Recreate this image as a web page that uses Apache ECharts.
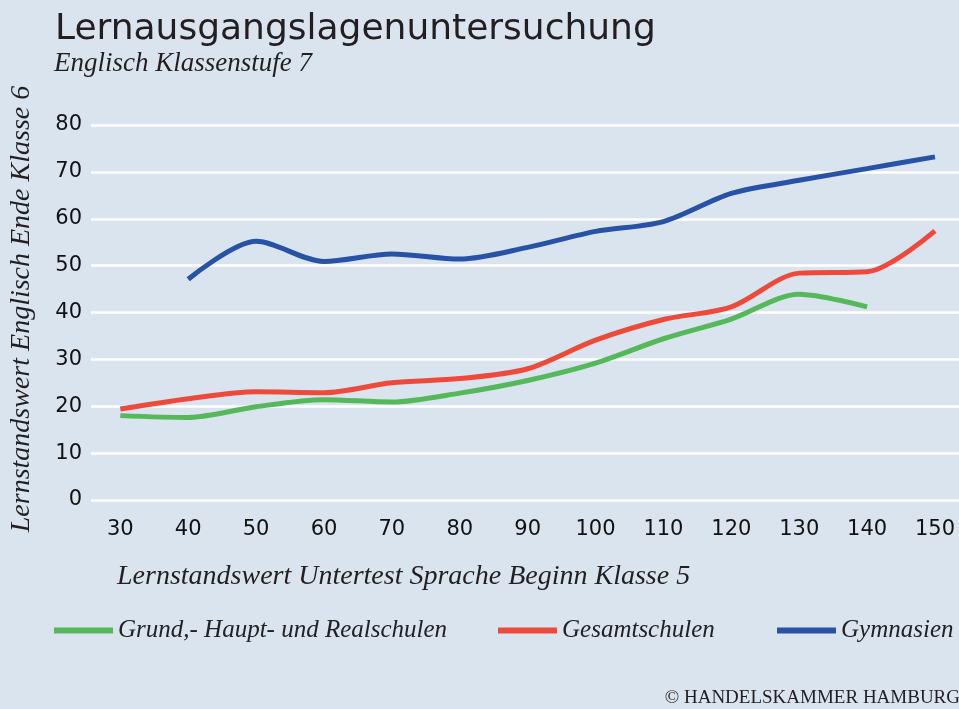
<!DOCTYPE html>
<html lang="de">

<head>
  <meta charset="UTF-8">
  <title>Lernausgangslagenuntersuchung</title>
  <script src="https://cdn.jsdelivr.net/npm/echarts@6.0.0/dist/echarts.min.js"></script>
  <style>
    html, body { margin: 0; padding: 0; background: #dae4ef; }
  </style>
</head>

<body>
  <div id="main" style="width: 959px;height:709px;"></div>

  <script type="text/javascript">

    // Lernstandswert Untertest Sprache Beginn Klasse 5
    const xValues = [30, 40, 50, 60, 70, 80, 90, 100, 110, 120, 130, 140, 150];
    const xTickLabels = [30, 40, 50, 60, 70, 80, 90, 100, 110, 120, 130, 140, 150];
    const yTickLabels = [0, 10, 20, 30, 40, 50, 60, 70, 80];

    // Lernstandswert Englisch Ende Klasse 6
    const grundHauptReal = [18.0, 17.6, 19.9, 21.4, 20.9, 22.8, 25.5, 29.2, 34.4, 38.6, 43.9, 41.2, null];
    const gesamtschulen = [19.4, 21.6, 23.1, 22.9, 25.0, 25.9, 28.0, 34.1, 38.5, 41.2, 48.4, 48.7, 57.4];
    const gymnasien = [null, 47.1, 55.2, 50.9, 52.5, 51.4, 53.9, 57.3, 59.4, 65.4, 68.2, 70.7, 73.2];

    const seriesNames = ['Grund,- Haupt- und Realschulen', 'Gesamtschulen', 'Gymnasien'];
    const seriesColors = ['#55b85a', '#ee4a3b', '#2752a5'];

    const serif = "'Liberation Serif', 'DejaVu Serif', serif";
    const sans = "'DejaVu Sans', sans-serif";

    function pairs(values) {
      return xValues.map((x, i) => [x, values[i]]).filter(p => p[1] !== null);
    }

    function makeLegend(name, left) {
      return {
        data: [name],
        left: left,
        top: 613,
        icon: 'rect',
        itemWidth: 59,
        itemHeight: 6,
        itemGap: 0,
        textStyle: { fontFamily: serif, fontStyle: 'italic', fontSize: 25, color: '#222' }
      };
    }

    let options = {
      backgroundColor: '#dae4ef',
      animation: false,
      title: [
        {
          text: 'Lernausgangslagenuntersuchung',
          left: 50,
          top: 7,
          textStyle: { fontFamily: sans, fontWeight: 'normal', fontSize: 36, color: '#231f20' }
        },
        {
          text: 'Englisch Klassenstufe 7',
          left: 49,
          top: 45,
          textStyle: { fontFamily: serif, fontStyle: 'italic', fontWeight: 'normal', fontSize: 27, color: '#231f20' }
        },
        {
          text: '© HANDELSKAMMER HAMBURG',
          right: -6,
          top: 684,
          textStyle: { fontFamily: serif, fontWeight: 'normal', fontSize: 19, color: '#231f20' }
        }
      ],
      legend: [
        makeLegend(seriesNames[0], 49),
        makeLegend(seriesNames[1], 493),
        makeLegend(seriesNames[2], 772)
      ],
      graphic: [
        {
          type: 'text',
          x: 22,
          y: 309,
          rotation: Math.PI / 2,
          style: {
            text: 'Lernstandswert Englisch Ende Klasse 6',
            font: 'italic 28px ' + serif,
            fill: '#231f20',
            textAlign: 'center',
            textVerticalAlign: 'middle'
          }
        },
        {
          type: 'text',
          x: 117,
          y: 577,
          style: {
            text: 'Lernstandswert Untertest Sprache Beginn Klasse 5',
            font: 'italic 28px ' + serif,
            fill: '#231f20',
            textAlign: 'left',
            textVerticalAlign: 'middle'
          }
        }
      ],
      grid: { left: 91, right: 0, top: 125, bottom: 209 },
      xAxis: {
        type: 'value',
        min: 25.68,
        max: 153.54,
        axisLine: { show: false },
        axisTick: { show: false },
        splitLine: { show: false },
        axisLabel: {
          customValues: xTickLabels,
          margin: 19,
          fontFamily: sans,
          fontSize: 21,
          color: '#111'
        }
      },
      yAxis: {
        type: 'value',
        min: 0,
        max: 80,
        interval: 10,
        axisLine: { show: false },
        axisTick: { show: false },
        splitLine: { lineStyle: { color: '#ffffff', width: 2.5 } },
        axisLabel: {
          margin: 9,
          fontFamily: sans,
          fontSize: 21,
          color: '#111',
          formatter: v => yTickLabels.includes(v) ? String(v) : ''
        }
      },
      series: [grundHauptReal, gesamtschulen, gymnasien].map((values, i) => ({
        name: seriesNames[i],
        type: 'line',
        data: pairs(values),
        smooth: 0.3,
        showSymbol: false,
        color: seriesColors[i],
        lineStyle: { width: 5, color: seriesColors[i], cap: 'butt' },
        itemStyle: { color: seriesColors[i] }
      }))
    };

    let myChart = echarts.init(document.getElementById('main'));
    myChart.setOption(options);
  </script>

</body>

</html>
